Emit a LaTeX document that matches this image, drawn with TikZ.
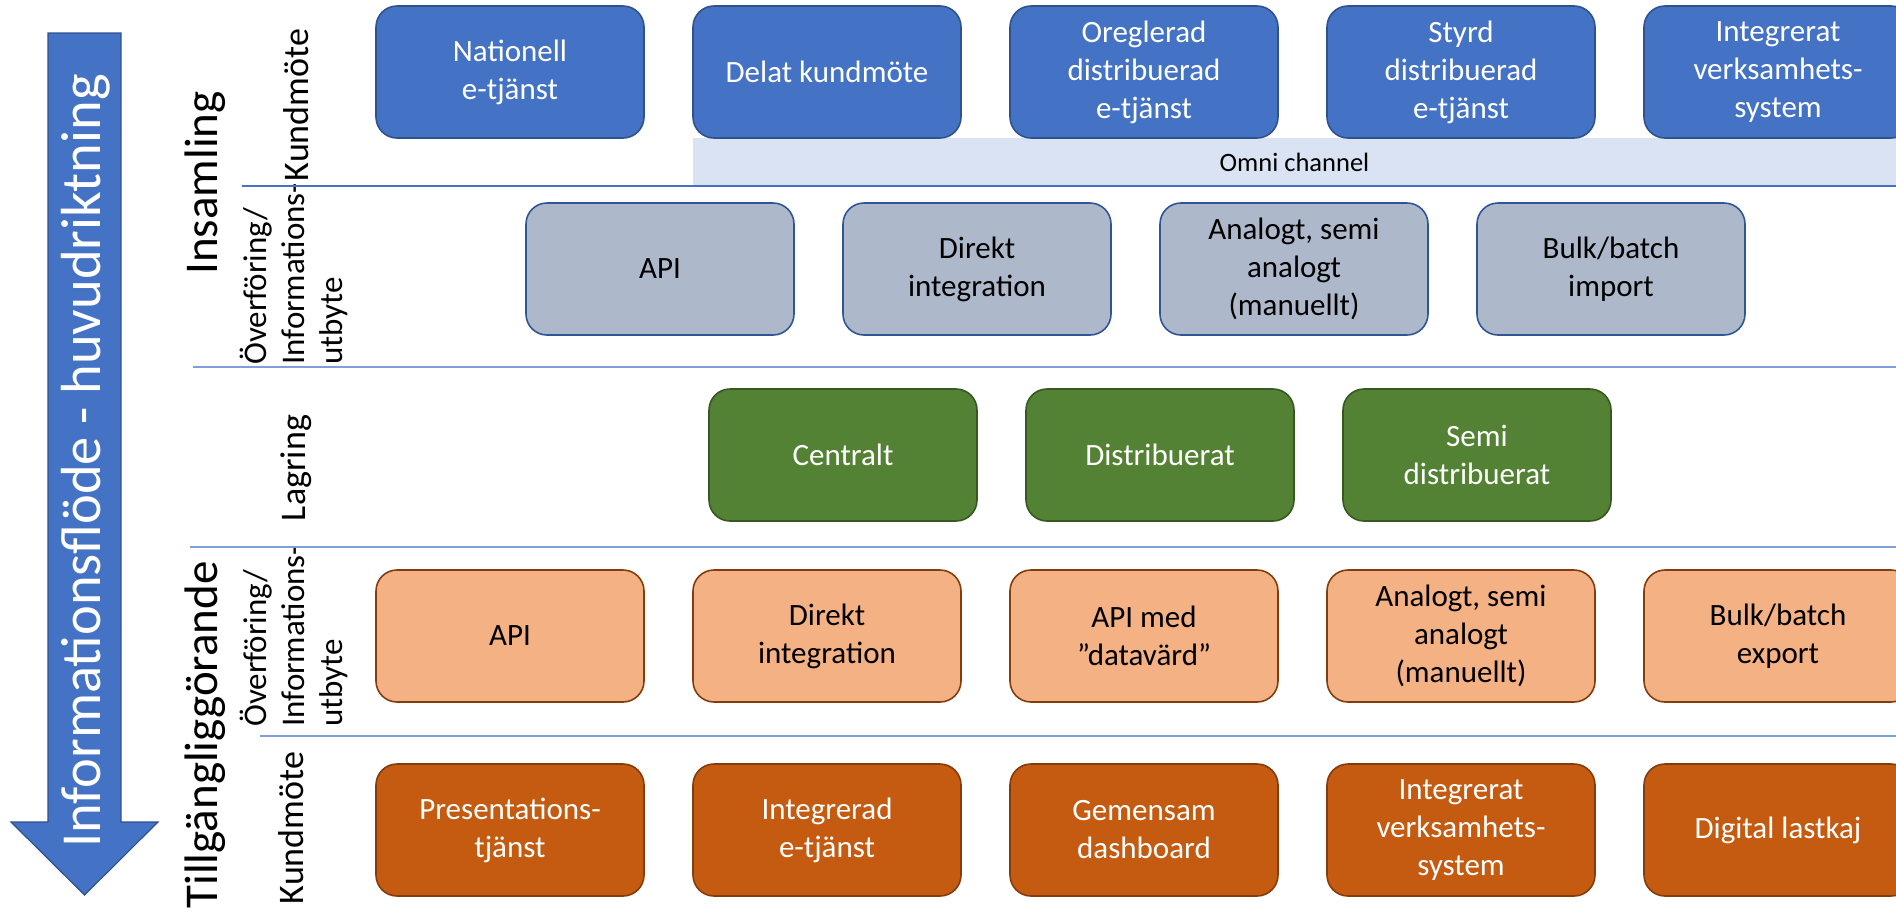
\documentclass[tikz,border=0pt]{standalone}
\usepackage{fontspec}
\setmainfont{Carlito}
\usetikzlibrary{positioning}

\definecolor{kundblue}{HTML}{4472C4}
\definecolor{kundline}{HTML}{2F528F}
\definecolor{overgrey}{HTML}{ADB9CA}
\definecolor{overline}{HTML}{2F5597}
\definecolor{laggreen}{HTML}{548235}
\definecolor{lagline}{HTML}{385723}
\definecolor{tillpeach}{HTML}{F4B183}
\definecolor{tillrust}{HTML}{C55A11}
\definecolor{tillline}{HTML}{843C0C}
\definecolor{omnifill}{HTML}{DAE3F3}
\definecolor{divline}{HTML}{7F9FD8}

\begin{document}
\begin{tikzpicture}[x=1pt,y=-1pt,node distance=317pt,
  box/.style={rounded corners=21pt,minimum width=268pt,minimum height=132pt,
    align=center,line width=1.6pt,inner sep=0pt,font=\fontsize{31}{38}\selectfont},
  kund/.style={box,fill=kundblue,draw=kundline,text=white},
  over/.style={box,fill=overgrey,draw=overline,text=black},
  lager/.style={box,fill=laggreen,draw=lagline,text=white},
  tillover/.style={box,fill=tillpeach,draw=tillline,text=black},
  tillkund/.style={box,fill=tillrust,draw=tillline,text=white},
  rowlabel/.style={rotate=90,anchor=base,inner sep=0pt,font=\fontsize{47}{50}\selectfont},
  sublabel/.style={rotate=90,anchor=base,inner sep=0pt,font=\fontsize{36}{38}\selectfont},
  steplabel/.style={rotate=90,anchor=north west,align=left,inner sep=0pt,
    font=\fontsize{33}{38}\selectfont},
  divider/.style={draw=divline,line width=1.5pt}]

\useasboundingbox (0,0) rectangle (1896,914);

% the flow arrow on the left
  \draw[fill=kundblue,draw=kundline,line width=1.2pt]
    (48,33) -- (121,33) -- (121,822) -- (158,822) -- (84.5,895)
    -- (11,822) -- (48,822) -- cycle;
  \node[rotate=90,anchor=base,inner sep=0pt,text=white,
    font=\fontsize{56.5}{60}\selectfont] (flow) at (100,461)
{Informationsflöde - huvudriktning};

% main and sub labels
  \node[rowlabel] (insamling) at (217,183) {Insamling};
  \node[rowlabel] (tillg) at (217,735) {Tillgängliggörande};
  \node[sublabel] (kund1) at (308,105) {Kundmöte};
  \node[steplabel] (over1) at (240,365)
{Överföring/\\Informations-\\utbyte};
  \node[sublabel] (lag) at (305,468) {Lagring};
  \node[steplabel] (over2) at (240,727)
{Överföring/\\Informations-\\utbyte};
  \node[sublabel] (kund2) at (303,828) {Kundmöte};

% omni channel band
  \node[fill=omnifill,minimum width=1203pt,minimum height=48pt,inner sep=0pt,
    font=\fontsize{26.5}{30}\selectfont] (omni) at (1294.5,162) {Omni channel};

% define the boxes, row by row
  \node[kund]   (a1) at (510,72)
{Nationell\\e-tjänst};
  \node[kund]   (a2)  [right of=a1]
{Delat kundmöte};
  \node[kund]   (a3)  [right of=a2]
{Oreglerad\\distribuerad\\e-tjänst};
  \node[kund]   (a4)  [right of=a3]
{Styrd\\distribuerad\\e-tjänst};
  \node[kund]   (a5)  [right of=a4]
{Integrerat\\verksamhets-\\system};

  \node[over]   (b1) at (660,269)
{API};
  \node[over]   (b2)  [right of=b1]
{Direkt\\integration};
  \node[over]   (b3)  [right of=b2]
{Analogt, semi\\analogt\\(manuellt)};
  \node[over]   (b4)  [right of=b3]
{Bulk/batch\\import};

  \node[lager]  (c1) at (843,455)
{Centralt};
  \node[lager]  (c2)  [right of=c1]
{Distribuerat};
  \node[lager]  (c3)  [right of=c2]
{Semi\\distribuerat};

  \node[tillover] (d1) at (510,636)
{API};
  \node[tillover] (d2)  [right of=d1]
{Direkt\\integration};
  \node[tillover] (d3)  [right of=d2]
{API med\\”datavärd”};
  \node[tillover] (d4)  [right of=d3]
{Analogt, semi\\analogt\\(manuellt)};
  \node[tillover] (d5)  [right of=d4]
{Bulk/batch\\export};

  \node[tillkund] (e1) at (510,830)
{Presentations-\\tjänst};
  \node[tillkund] (e2)  [right of=e1]
{Integrerad\\e-tjänst};
  \node[tillkund] (e3)  [right of=e2]
{Gemensam\\dashboard};
  \node[tillkund] (e4)  [right of=e3]
{Integrerat\\verksamhets-\\system};
  \node[tillkund] (e5)  [right of=e4]
{Digital lastkaj};

% row dividers
  \draw[divider,draw=kundblue] (242,186) -- (1896,186);
  \draw[divider] (193,367) -- (1896,367);
  \draw[divider] (190,547) -- (1896,547);
  \draw[divider] (260,736) -- (1896,736);

\end{tikzpicture}
\end{document}
